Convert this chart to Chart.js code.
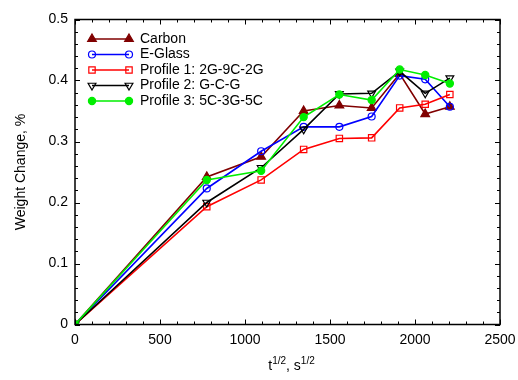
<!DOCTYPE html>
<html><head><meta charset="utf-8">
<script src="https://cdn.jsdelivr.net/npm/chart.js"></script>
<style>html,body{margin:0;padding:0;background:#fff}#wrap{width:518px;height:380px}</style>
</head><body><div id="wrap"><canvas id="c" width="518" height="380"></canvas></div>
<script>
const timeSqrt = [0, 775, 1095, 1345, 1555, 1745, 1910, 2060, 2205];
const carbon   = [0, 0.242, 0.275, 0.350, 0.359, 0.355, 0.411, 0.345, 0.357];
const eGlass   = [0, 0.223, 0.284, 0.324, 0.324, 0.341, 0.408, 0.402, 0.357];
const profile1 = [0, 0.193, 0.237, 0.287, 0.305, 0.306, 0.355, 0.361, 0.377];
const profile2 = [0, 0.200, 0.257, 0.320, 0.378, 0.379, 0.415, 0.379, 0.404];
const profile3 = [0, 0.237, 0.252, 0.340, 0.377, 0.368, 0.418, 0.409, 0.395];
const seriesNames = ['Carbon', 'E-Glass', 'Profile 1: 2G-9C-2G', 'Profile 2: G-C-G', 'Profile 3: 5C-3G-5C'];
const xTicks = [0, 500, 1000, 1500, 2000, 2500];
const yTicks = [0, 0.1, 0.2, 0.3, 0.4, 0.5];

const FONT = '"Liberation Sans", Arial, sans-serif';
const styles = [
  {color:'#800000', style:'triangle', rot:0, fill:true, r:5},
  {color:'#0000ff', style:'circle', rot:0, fill:false, r:3.5},
  {color:'#ff0000', style:'rect', rot:0, fill:false, r:4.5},
  {color:'#000000', style:'triangle', rot:180, fill:false, r:4.5},
  {color:'#00ee00', style:'circle', rot:0, fill:true, r:3.6}
];
const allSeries = [carbon, eGlass, profile1, profile2, profile3];
const datasets = allSeries.map((arr, i) => ({
  label: seriesNames[i],
  data: arr.map((v, j) => ({x: timeSqrt[j], y: v})),
  borderColor: styles[i].color,
  backgroundColor: styles[i].fill ? styles[i].color : 'rgba(255,255,255,0)',
  pointBorderColor: styles[i].color,
  pointBackgroundColor: styles[i].fill ? styles[i].color : 'rgba(255,255,255,0)',
  pointStyle: styles[i].style,
  pointRotation: styles[i].rot,
  pointRadius: styles[i].r,
  pointBorderWidth: 1.2,
  borderWidth: 1.6,
  tension: 0,
  order: 5 - i
}));

function drawMarker(ctx, s, x, y) {
  ctx.save();
  ctx.strokeStyle = s.color; ctx.fillStyle = s.color; ctx.lineWidth = 1.2;
  ctx.beginPath();
  const r = s.r;
  if (s.style === 'circle') { ctx.arc(x, y, r, 0, Math.PI*2); }
  else if (s.style === 'rect') { const h = r*Math.SQRT1_2; ctx.rect(x-h, y-h, 2*h, 2*h); }
  else if (s.style === 'triangle') {
    const sgn = s.rot === 180 ? -1 : 1;
    const a = r*Math.cos(Math.PI/6);
    ctx.moveTo(x, y - sgn*r);
    ctx.lineTo(x + a, y + sgn*r/2);
    ctx.lineTo(x - a, y + sgn*r/2);
    ctx.closePath();
  }
  if (s.fill) ctx.fill();
  ctx.stroke();
  ctx.restore();
}

const framePlugin = {
  id: 'frame',
  afterDraw(chart) {
    const ctx = chart.ctx, a = chart.chartArea;
    const xs = chart.scales.x, ys = chart.scales.y;
    ctx.save();
    ctx.strokeStyle = '#000';
    ctx.lineWidth = 1;
    for (let v = 0; v <= 2500; v += 100) {
      const px = Math.round(xs.getPixelForValue(v)) + 0.5;
      const len = (v % 500 === 0) ? 5 : 3;
      ctx.beginPath();
      ctx.moveTo(px, a.bottom); ctx.lineTo(px, a.bottom - len);
      ctx.moveTo(px, a.top); ctx.lineTo(px, a.top + len);
      ctx.stroke();
    }
    for (let k = 0; k <= 25; k++) {
      const v = k * 0.02;
      const py = Math.round(ys.getPixelForValue(v)) + 0.5;
      const len = (k % 5 === 0) ? 5 : 3;
      ctx.beginPath();
      ctx.moveTo(a.left, py); ctx.lineTo(a.left + len, py);
      ctx.moveTo(a.right, py); ctx.lineTo(a.right - len, py);
      ctx.stroke();
    }
    ctx.lineWidth = 1.5;
    ctx.strokeRect(a.left, a.top, a.right - a.left, a.bottom - a.top);
    // legend
    ctx.font = '14px ' + FONT;
    ctx.textBaseline = 'middle';
    const x0 = a.left + 17, x1 = a.left + 54, tx = a.left + 65;
    let y = a.top + 19.5;
    seriesNames.forEach((name, i) => {
      const s = styles[i];
      ctx.strokeStyle = s.color; ctx.lineWidth = 1.6;
      ctx.beginPath(); ctx.moveTo(x0, y); ctx.lineTo(x1, y); ctx.stroke();
      drawMarker(ctx, s, x0, y); drawMarker(ctx, s, x1, y);
      ctx.fillStyle = '#000';
      ctx.fillText(name, tx, y);
      y += 15.5;
    });
    // x title with superscripts
    const cx = (a.left + a.right) / 2;
    const parts = [['t', 14, 0], ['1/2', 10, -6], [', s', 14, 0], ['1/2', 10, -6]];
    let w = 0;
    parts.forEach(p => { ctx.font = p[1] + 'px ' + FONT; w += ctx.measureText(p[0]).width; });
    let px = cx - w / 2 + 4;
    const by = 370;
    ctx.textBaseline = 'alphabetic';
    ctx.fillStyle = '#000';
    parts.forEach(p => { ctx.font = p[1] + 'px ' + FONT; ctx.fillText(p[0], px, by + p[2]); px += ctx.measureText(p[0]).width; });
    ctx.restore();
  }
};

new Chart(document.getElementById('c'), {
  type: 'line',
  data: { datasets },
  options: {
    responsive: false,
    animation: false,
    devicePixelRatio: 1,
    layout: { padding: { top: 19.5, right: 18, left: 0, bottom: 0 } },
    plugins: { legend: { display: false }, tooltip: { enabled: false } },
    scales: {
      x: {
        type: 'linear', min: 0, max: 2500,
        afterBuildTicks: s => { s.ticks = xTicks.map(v => ({value: v})); },
        afterFit: s => { s.height = 55.5; s.paddingLeft = 0; s.paddingRight = 0; },
        ticks: { font: { size: 14, family: FONT }, color: '#000', padding: 7, maxRotation: 0, callback: v => String(v) },
        grid: { display: false, drawTicks: false },
        border: { display: false }
      },
      y: {
        type: 'linear', min: 0, max: 0.5,
        afterBuildTicks: s => { s.ticks = yTicks.map(v => ({value: v})); },
        afterFit: s => { s.width = 75; s.paddingTop = 0; s.paddingBottom = 0; },
        ticks: { font: { size: 14, family: FONT }, color: '#000', padding: 7, callback: v => (Math.round(v*10)/10).toString() },
        grid: { display: false, drawTicks: false },
        border: { display: false },
        title: { display: true, text: 'Weight Change, %', font: { size: 14, family: FONT }, color: '#000', padding: { top: 13, bottom: 0 } }
      }
    }
  },
  plugins: [framePlugin]
});
</script></body></html>
